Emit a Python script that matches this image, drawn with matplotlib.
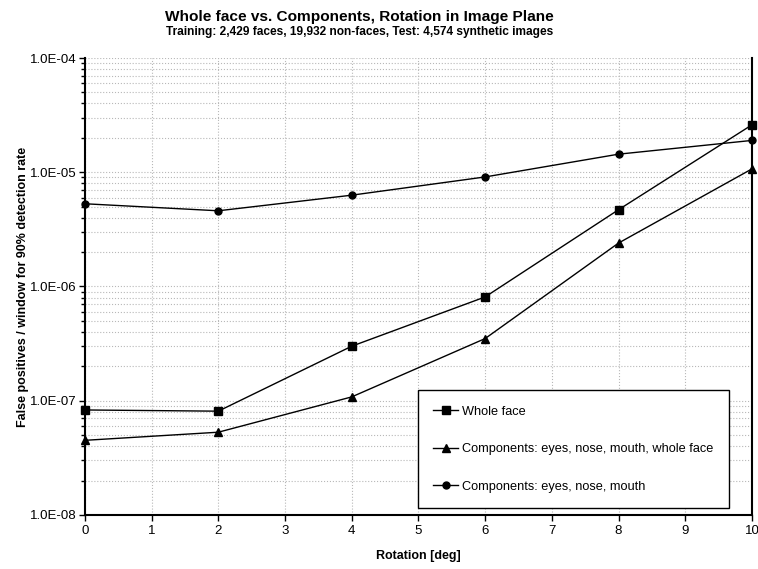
import numpy as np
import matplotlib.pyplot as plt
from matplotlib.ticker import FuncFormatter, LogLocator, NullFormatter

plt.rcParams['font.family'] = ['Liberation Sans', 'DejaVu Sans']

rotation = [0, 2, 4, 6, 8, 10]
whole_face = [8.3e-8, 8.1e-8, 3.0e-7, 8.1e-7, 4.7e-6, 2.6e-5]
comp_whole = [4.5e-8, 5.3e-8, 1.08e-7, 3.5e-7, 2.4e-6, 1.07e-5]
comp_only = [5.3e-6, 4.6e-6, 6.3e-6, 9.1e-6, 1.44e-5, 1.9e-5]

fig = plt.figure(figsize=(7.58, 5.69), dpi=100)
ax = fig.add_axes([0.112, 0.095, 0.880, 0.803])

ax.plot(rotation, whole_face, color='black', lw=1, marker='s', ms=6, label='Whole face', clip_on=False, zorder=5)
ax.plot(rotation, comp_whole, color='black', lw=1, marker='^', ms=6, label='Components: eyes, nose, mouth, whole face', clip_on=False, zorder=5)
ax.plot(rotation, comp_only, color='black', lw=1, marker='o', ms=5, label='Components: eyes, nose, mouth', clip_on=False, zorder=5)

ax.set_yscale('log')
ax.set_xlim(0, 10)
ax.set_ylim(1e-8, 1e-4)
ax.set_xticks(range(0, 11))
ax.yaxis.set_major_locator(LogLocator(base=10, numticks=10))
ax.yaxis.set_minor_locator(LogLocator(base=10, subs=np.arange(2, 10), numticks=20))
ax.yaxis.set_major_formatter(FuncFormatter(lambda v, p: '1.0E%+03d' % int(round(np.log10(v))) if v > 0 else ''))
ax.yaxis.set_minor_formatter(NullFormatter())

ax.grid(True, which='major', color='#b8b8b8', linestyle=':', lw=0.8)
ax.grid(True, which='minor', axis='y', color='#b8b8b8', linestyle=':', lw=0.8)

ax.spines['top'].set_visible(False)
for s in ['left', 'bottom', 'right']:
    ax.spines[s].set_linewidth(1.5)
ax.tick_params(axis='both', which='major', direction='out', length=4, width=1, labelsize=9.5)
ax.tick_params(axis='y', which='major', pad=2)
ax.tick_params(axis='y', which='minor', direction='out', length=3, width=1)

ax.set_xlabel('Rotation [deg]', fontsize=9, fontweight='bold', labelpad=9)
ax.set_ylabel('False positives / window for 90% detection rate', fontsize=9, fontweight='bold', labelpad=1)

fig.text(0.474, 0.971, 'Whole face vs. Components, Rotation in Image Plane', ha='center', va='center',
         fontsize=11.1, fontweight='bold')
fig.text(0.474, 0.943, 'Training: 2,429 faces, 19,932 non-faces, Test: 4,574 synthetic images', ha='center', va='center',
         fontsize=8.6, fontweight='bold')

leg = ax.legend(loc='lower left', bbox_to_anchor=(0.499, 0.015, 0.466, 0.258), mode='expand',
                borderaxespad=0, fontsize=9.2, labelspacing=2.0, handlelength=1.95, handletextpad=0.3,
                fancybox=False, framealpha=1, edgecolor='black', borderpad=1.2)
leg.get_frame().set_linewidth(1)

fig.savefig('out.png', dpi=100)
